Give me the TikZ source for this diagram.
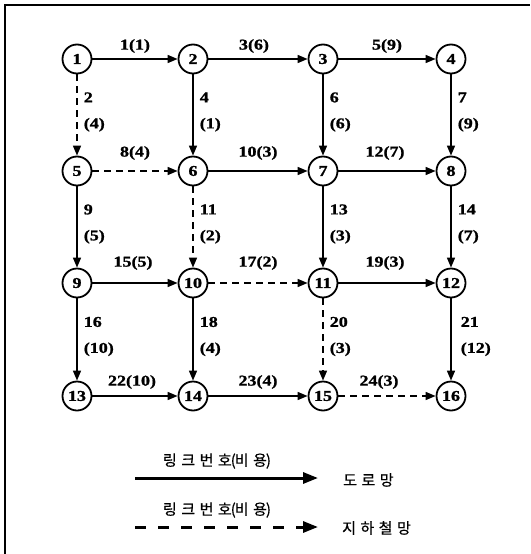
\documentclass[tikz,border=0pt]{standalone}
\usepackage{fontspec}
\setmainfont{Liberation Serif}
\newfontfamily\numfont[FakeStretch=1.2, FakeBold=1.2, UprightFont={* Bold}]{Liberation Serif}
\newfontfamily\krfont[LetterSpace=30, FakeBold=0.6]{Noto Sans CJK KR}
\usetikzlibrary{arrows.meta}
\tikzset{
  stn/.style={circle, draw, line width=1.8pt, minimum size=29pt, inner sep=0pt,
    font=\numfont\fontsize{15}{17}\selectfont},
  road/.style={line width=1.6pt, -{Triangle[length=10pt,width=8pt]}},
  metro/.style={road, dash pattern=on 7pt off 5pt},
  hlab/.style={midway, anchor=center, inner sep=0pt,
    font=\numfont\fontsize{15}{17}\selectfont},
  vlab/.style={midway, anchor=west, align=left, inner sep=0pt, xshift=6pt, yshift=3pt,
    font=\numfont\fontsize{15}{26}\selectfont},
  kr/.style={inner sep=0pt, font=\krfont\fontsize{15}{17}\selectfont},
  legroad/.style={line width=3pt, -{Triangle[length=15pt,width=11pt]}},
  legmetro/.style={legroad, dash pattern=on 11pt off 12pt}
}
\begin{document}
\begin{tikzpicture}[x=1pt,y=-1pt]
\useasboundingbox (0,0) rectangle (530,554);
% frame (top and left edges visible)
\draw[line width=1.5pt] (5,554) -- (5,5) -- (530,5);
% stations
\node[stn] (1) at (77,59) {1};
\node[stn] (2) at (193,59) {2};
\node[stn] (3) at (323,59) {3};
\node[stn] (4) at (451,59) {4};
\node[stn] (5) at (77,171) {5};
\node[stn] (6) at (193,171) {6};
\node[stn] (7) at (323,171) {7};
\node[stn] (8) at (451,171) {8};
\node[stn] (9) at (77,283) {9};
\node[stn] (10) at (193,283) {10};
\node[stn] (11) at (323,283) {11};
\node[stn] (12) at (451,283) {12};
\node[stn] (13) at (77,396) {13};
\node[stn] (14) at (193,396) {14};
\node[stn] (15) at (323,396) {15};
\node[stn] (16) at (451,396) {16};
% horizontal links
\draw[road]  (1) -- node[hlab, yshift=13pt] {1(1)} (2);
\draw[road]  (2) -- node[hlab, yshift=13pt, xshift=-4pt] {3(6)} (3);
\draw[road]  (3) -- node[hlab, yshift=13pt] {5(9)} (4);
\draw[metro] (5) -- node[hlab, yshift=18pt] {8(4)} (6);
\draw[road]  (6) -- node[hlab, yshift=18pt] {10(3)} (7);
\draw[road]  (7) -- node[hlab, yshift=18pt, xshift=-2pt] {12(7)} (8);
\draw[road]  (9) -- node[hlab, yshift=20pt, xshift=-2pt] {15(5)} (10);
\draw[metro] (10) -- node[hlab, yshift=20pt] {17(2)} (11);
\draw[road]  (11) -- node[hlab, yshift=20pt, xshift=-2pt] {19(3)} (12);
\draw[road]  (13) -- node[hlab, yshift=14pt, xshift=-3pt] {22(10)} (14);
\draw[road]  (14) -- node[hlab, yshift=14pt] {23(4)} (15);
\draw[metro] (15) -- node[hlab, yshift=14pt, xshift=-8pt] {24(3)} (16);
% vertical links
\draw[metro] (1) -- node[vlab] {2\\(4)} (5);
\draw[road]  (2) -- node[vlab] {4\\(1)} (6);
\draw[road]  (3) -- node[vlab] {6\\(6)} (7);
\draw[road]  (4) -- node[vlab] {7\\(9)} (8);
\draw[road]  (5) -- node[vlab] {9\\(5)} (9);
\draw[metro] (6) -- node[vlab] {11\\(2)} (10);
\draw[road]  (7) -- node[vlab] {13\\(3)} (11);
\draw[road]  (8) -- node[vlab] {14\\(7)} (12);
\draw[road]  (9) -- node[vlab] {16\\(10)} (13);
\draw[road]  (10) -- node[vlab] {18\\(4)} (14);
\draw[metro] (11) -- node[vlab] {20\\(3)} (15);
\draw[road]  (12) -- node[vlab, xshift=3pt] {21\\(12)} (16);
% legend
\coordinate (la) at (135,478);
\coordinate (lb) at (318,478);
\coordinate (ma) at (135,527);
\coordinate (mb) at (318,527);
\draw[legroad] (la) -- (lb);
\draw[legmetro] (ma) -- (mb);
\node[kr] (t1) at (217,461) {링크번호\kern-1pt(\kern-1pt비용\kern-1pt)};
\node[kr] (t2) at (217,510) {링크번호\kern-1pt(\kern-1pt비용\kern-1pt)};
\node[kr, anchor=west] (n1) at (343,480) {도로망};
\node[kr, anchor=west] (n2) at (342,528) {지하철망};
\end{tikzpicture}
\end{document}
